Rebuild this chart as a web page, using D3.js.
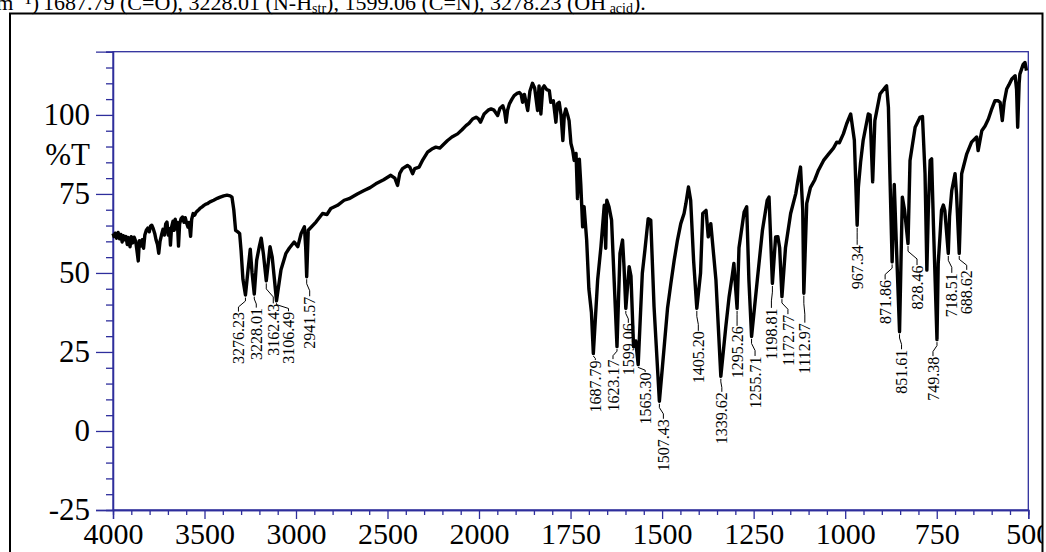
<!DOCTYPE html>
<html>
<head>
<meta charset="utf-8">
<script src="https://cdn.jsdelivr.net/npm/d3@7"></script>
<style>
  body { margin: 0; background: #fff; overflow: hidden; }
  svg { display: block; font-family: "Liberation Serif", "DejaVu Serif", serif; }
</style>
</head>
<body>
<svg id="chart"></svg>
<script>
// IR spectrum: [wavenumber cm-1, %T]
const spectrum = [
  [4000, 62.5], [3994, 61.5], [3988, 62.6], [3980, 61.0], [3972, 62.8], [3964, 60.8], [3957, 62.2], [3950, 59.8],
  [3943, 61.8], [3936, 60.5], [3929, 61.5], [3922, 59.0], [3915, 61.2], [3907, 58.3], [3900, 61.5], [3892, 59.5],
  [3884, 61.3], [3876, 60.0], [3869, 57.0], [3862, 53.8], [3856, 60.2], [3848, 58.5], [3840, 60.5], [3833, 57.8],
  [3826, 62.0], [3818, 63.5], [3810, 64.2], [3802, 63.0], [3795, 64.8], [3788, 65.1], [3780, 64.0], [3772, 62.5],
  [3765, 60.5], [3757, 59.0], [3750, 56.2], [3743, 60.0], [3735, 62.0], [3727, 63.8], [3719, 62.0], [3712, 65.5],
  [3705, 66.1], [3698, 62.0], [3691, 64.0], [3686, 58.8], [3680, 64.5], [3672, 66.4], [3666, 63.5], [3660, 67.0],
  [3654, 64.0], [3648, 66.0], [3642, 58.5], [3636, 65.5], [3628, 67.2], [3620, 67.7], [3612, 66.0], [3605, 67.5],
  [3598, 65.8], [3590, 64.5], [3584, 66.0], [3576, 61.6], [3570, 67.0], [3562, 68.8], [3554, 68.3], [3545, 69.3],
  [3535, 69.8], [3525, 70.4], [3515, 70.8], [3505, 71.3], [3495, 71.7], [3485, 71.9], [3470, 72.5], [3450, 73.0],
  [3430, 73.6], [3414, 74.0], [3395, 74.4], [3377, 74.6], [3360, 74.4], [3350, 74.0], [3340, 70.0], [3330, 63.5],
  [3318, 63.0], [3308, 62.5], [3300, 57.0], [3290, 48.0], [3276.23, 43.0], [3262, 51.0], [3250, 57.5], [3240, 50.0],
  [3228.01, 43.3], [3215, 54.0], [3200, 58.5], [3190, 61.0], [3178, 56.0], [3162.43, 47.5], [3150, 54.0], [3142, 58.3],
  [3130, 55.0], [3118, 48.0], [3106.49, 41.2], [3082, 51.0], [3055, 56.2], [3037, 57.8], [3010, 59.8], [2990, 58.3],
  [2972, 62.5], [2954, 64.6], [2947, 58.0], [2941.57, 48.8], [2933, 63.5], [2891, 66.1], [2855, 68.8], [2831, 68.5],
  [2810, 70.4], [2773, 71.4], [2737, 73.0], [2710, 73.5], [2665, 75.0], [2628, 76.1], [2595, 77.0], [2564, 78.2],
  [2521, 79.5], [2482, 80.9], [2460, 80.0], [2445, 77.7], [2433, 81.5], [2418, 83.0], [2391, 84.0], [2378, 83.5],
  [2363, 81.4], [2351, 83.0], [2327, 83.5], [2307, 85.8], [2281, 88.2], [2258, 89.2], [2236, 89.8], [2214, 89.5],
  [2197, 90.5], [2172, 91.9], [2148, 93.0], [2117, 94.0], [2093, 95.3], [2071, 96.6], [2055, 97.3], [2035, 98.7],
  [2016, 99.3], [2004, 98.8], [1996, 97.7], [1986, 100.3], [1975, 101.5], [1967, 101.9], [1959, 101.5], [1949, 99.8],
  [1943, 102.0], [1935, 102.9], [1930, 101.0], [1926, 97.7], [1922, 101.5], [1917, 103.5], [1910, 105.0], [1904, 106.1],
  [1896, 106.8], [1890, 107.1], [1885, 106.5], [1881, 104.0], [1876, 106.5], [1867, 101.4], [1861, 107.5], [1854, 110.0],
  [1848, 108.5], [1840, 101.4], [1836, 109.2], [1831, 100.3], [1826, 108.5], [1822, 109.2], [1815, 108.0], [1808, 107.7],
  [1804, 104.0], [1797, 104.5], [1790, 97.7], [1786, 103.5], [1781, 104.0], [1776, 100.0], [1771, 91.9], [1767, 100.0],
  [1763, 101.9], [1758, 100.0], [1754, 98.2], [1749, 91.0], [1744, 88.7], [1740, 85.6], [1735, 87.8], [1731, 73.5],
  [1726, 86.0], [1722, 78.0], [1717, 64.6], [1713, 71.0], [1706, 60.4], [1700, 45.0], [1693, 37.5], [1687.79, 24.5],
  [1676, 47.8], [1667, 58.3], [1658, 71.4], [1654, 57.8], [1651, 73.0], [1645, 70.9], [1638, 66.7], [1631, 47.8],
  [1623.17, 26.7], [1615, 56.2], [1608, 60.4], [1604, 52.0], [1599.06, 38.8], [1590, 52.0], [1585, 49.0], [1578, 26.7],
  [1572, 28.5], [1565.3, 21.0], [1554, 49.9], [1547, 57.2], [1538, 67.2], [1531, 66.7], [1522, 39.3], [1507.43, 9.4],
  [1499, 20.4], [1485, 39.0], [1476, 46.7], [1467, 54.0], [1458, 60.4], [1449, 65.6], [1440, 68.8], [1435, 72.0],
  [1428, 77.2], [1422, 73.0], [1414, 54.0], [1405.2, 38.8], [1395, 50.0], [1389, 68.8], [1380, 69.8], [1374, 61.4],
  [1367, 65.6], [1353, 47.8], [1339.62, 17.3], [1326, 33.0], [1317, 42.5], [1308, 49.5], [1304, 53.0], [1295.26, 38.8],
  [1290, 58.0], [1276, 69.3], [1269, 70.9], [1263, 47.8], [1255.71, 29.9], [1240, 47.8], [1226, 63.5], [1213, 73.0],
  [1208, 74.0], [1198.81, 46.7], [1190, 61.4], [1184, 61.5], [1179, 58.0], [1172.77, 42.5], [1163, 58.0], [1149, 68.8],
  [1135, 75.1], [1129, 79.3], [1122, 83.5], [1116, 70.0], [1112.97, 43.6], [1105, 72.0], [1095, 77.0], [1083, 79.5],
  [1073, 82.5], [1059, 85.6], [1046, 87.5], [1032, 89.5], [1023, 91.4], [1016, 91.2], [1005, 94.0], [996, 97.2],
  [985, 100.3], [975, 92.0], [967.34, 65.1], [964, 77.2], [958, 85.0], [951, 91.9], [937, 100.3], [932, 100.0],
  [925, 78.8], [919, 98.2], [905, 106.6], [891, 108.7], [887, 109.2], [882, 102.4], [878, 81.4], [871.86, 53.5],
  [866, 78.0], [860, 58.0], [851.61, 31.4], [844, 74.0], [838, 70.0], [828.46, 59.3], [823, 85.6], [809, 96.1],
  [796, 99.2], [789, 99.5], [782, 81.4], [777, 50.9], [773, 70.0], [768, 85.6], [764, 86.1], [759, 65.0],
  [749.38, 28.9], [746, 53.0], [741, 62.0], [737, 69.8], [732, 71.5], [728, 69.8], [718.51, 56.2], [715, 68.0],
  [709, 76.1], [700, 81.4], [696, 75.0], [688.62, 56.2], [687, 62.0], [682, 81.4], [668, 87.7], [655, 91.4],
  [641, 93.0], [637, 88.7], [627, 95.0], [618, 96.5], [609, 98.7], [601, 101.5], [591, 104.5], [583, 104.5],
  [577, 104.0], [571, 98.2], [566, 104.0], [559, 108.2], [553, 109.5], [545, 111.4], [536, 112.4], [532, 108.0],
  [529, 96.1], [525, 110.0], [523, 112.9], [514, 116.0], [509, 116.6], [505, 114.0]
];

// picked peaks (labels are the wavenumbers)
const peakLabels = [
  "3276.23", "3228.01", "3162.43", "3106.49", "2941.57",
  "1687.79", "1623.17", "1599.06", "1565.30", "1507.43", "1405.20", "1339.62", "1295.26",
  "1255.71", "1198.81", "1172.77", "1112.97", "967.34", "871.86", "851.61", "828.46",
  "749.38", "718.51", "688.62"
];

const xMajorTicks = [4000, 3500, 3000, 2500, 2000, 1750, 1500, 1250, 1000, 750, 500];
const yMajorTicks = [-25, 0, 25, 50, 75, 100];
const yAxisTitle = "%T";

// label placement: [x shift of the text in px, gap below the peak in px]
const labelLayout = {
  "3276.23": [-7, 17], "3228.01": [2, 14], "3162.43": [7, 23], "3106.49": [12, 11], "2941.57": [3, 20],
  "1687.79": [2, 7], "1623.17": [-4, 13], "1599.06": [2.5, 15], "1565.30": [7, 8], "1507.43": [4, 18],
  "1405.20": [1.5, 23], "1339.62": [1, 16], "1295.26": [0, 18], "1255.71": [3.5, 20], "1198.81": [-1, 25],
  "1172.77": [6, 18], "1112.97": [1, 30], "967.34": [0, 20], "871.86": [-7, 18], "851.61": [2, 18],
  "828.46": [9, 22], "749.38": [-4, 17], "718.51": [3.5, 20], "688.62": [7.5, 17]
};

const serif = '"Liberation Serif", "DejaVu Serif", serif';

class SpectrumPlot {
  constructor(_config, _data, _peaks) {
    this.config = {
      parentElement: _config.parentElement,
      containerWidth: _config.containerWidth || 1046,
      containerHeight: _config.containerHeight || 552,
      margin: _config.margin || { top: 51.7, right: 17.7, bottom: 42, left: 113 }
    };
    this.data = _data;
    this.peaks = _peaks;
    this.axisColor = '#2e2e9c';
    this.initVis();
  }

  initVis() {
    let vis = this;

    vis.width = vis.config.containerWidth - vis.config.margin.left - vis.config.margin.right;
    vis.height = vis.config.containerHeight - vis.config.margin.top - vis.config.margin.bottom;

    // x axis is split at 2000: the 4000-2000 half is compressed
    vis.xScale = d3.scaleLinear()
      .domain([4000, 2000, 500])
      .range([0, 366, vis.width]);

    vis.yScale = d3.scaleLinear()
      .domain([-25, 120])
      .range([vis.height, 0]);

    vis.svg = d3.select(vis.config.parentElement)
      .attr('width', vis.config.containerWidth)
      .attr('height', vis.config.containerHeight);

    vis.chart = vis.svg.append('g')
      .attr('transform', `translate(${vis.config.margin.left},${vis.config.margin.top})`);

    // minor tick values
    let xMinor = d3.range(4000, 2000, -100).concat(d3.range(2000, 499, -50))
      .filter(v => !xMajorTicks.includes(v));
    let yMinor = d3.range(-25, 121, 5).filter(v => !yMajorTicks.includes(v));

    vis.xAxis = d3.axisBottom(vis.xScale).tickValues(xMajorTicks).tickSize(9).tickPadding(4)
      .tickFormat(d => String(d));
    vis.xAxisMinor = d3.axisBottom(vis.xScale).tickValues(xMinor).tickSize(5).tickFormat('');
    vis.yAxis = d3.axisLeft(vis.yScale).tickValues(yMajorTicks).tickSize(17).tickPadding(6)
      .tickFormat(d => String(d));
    vis.yAxisMinor = d3.axisLeft(vis.yScale).tickValues(yMinor).tickSize(7).tickFormat('');
  }

  renderVis() {
    let vis = this;

    // caption line cut off at the top of the page
    let cap = vis.svg.append('g').attr('font-size', 22).attr('font-family', serif).attr('fill', '#000');
    cap.append('text').attr('x', 39).attr('y', 9.5).attr('text-anchor', 'end').text('cm\u207B\u00B9)');
    let capText = cap.append('text').attr('x', 43).attr('y', 9.5);
    capText.append('tspan').text('1687.79 (C=O), 3228.01 (N-H');
    capText.append('tspan').attr('font-size', 14).attr('dy', 3).text('str');
    capText.append('tspan').attr('dy', -3).text('), 1599.06 (C=N), 3278.23 (OH');
    capText.append('tspan').attr('font-size', 14).attr('dy', 3).text(' acid');
    capText.append('tspan').attr('dy', -3).text(').');

    // plot frame (top and right)
    vis.chart.append('rect')
      .attr('width', vis.width)
      .attr('height', vis.height)
      .attr('fill', 'none')
      .attr('stroke', vis.axisColor)
      .attr('stroke-width', 1.3);

    // axes
    let xg = vis.chart.append('g').attr('transform', `translate(0,${vis.height})`);
    xg.append('g').call(vis.xAxisMinor);
    xg.append('g').call(vis.xAxis);
    let yg = vis.chart.append('g');
    yg.append('g').call(vis.yAxisMinor);
    yg.append('g').call(vis.yAxis);

    vis.chart.selectAll('.domain, .tick line')
      .attr('stroke', vis.axisColor)
      .attr('stroke-width', 1.3);
    vis.chart.selectAll('.tick text')
      .attr('fill', '#000')
      .attr('font-family', serif)
      .attr('font-size', 31);
    xg.selectAll('.tick text').attr('font-size', 30);

    // %T between 100 and 75
    vis.chart.append('text')
      .attr('x', -23)
      .attr('y', vis.yScale(87.5) + 11)
      .attr('text-anchor', 'end')
      .attr('font-family', serif)
      .attr('font-size', 31)
      .text(yAxisTitle);

    // spectrum line
    let line = d3.line()
      .x(d => vis.xScale(d[0]))
      .y(d => vis.yScale(d[1]));

    vis.chart.append('path')
      .datum(vis.data)
      .attr('d', line)
      .attr('fill', 'none')
      .attr('stroke', '#000')
      .attr('stroke-width', 3.4)
      .attr('stroke-linejoin', 'round');

    // peak labels with leaders
    let peakData = vis.peaks.map(lbl => {
      let wn = +lbl;
      let pt = vis.data.find(d => Math.abs(d[0] - wn) < 0.001);
      let lay = labelLayout[lbl] || [0, 18];
      let px = vis.xScale(wn), py = vis.yScale(pt[1]);
      return { lbl, px, py, lx: px + lay[0], gap: lay[1] };
    });

    let pk = vis.chart.selectAll('.peak')
      .data(peakData)
      .enter()
      .append('g')
      .attr('class', 'peak');

    pk.append('path')
      .attr('d', d => `M${d.px},${d.py + 2.5}V${d.py + d.gap * 0.35}L${d.lx},${d.py + d.gap * 0.7}V${d.py + d.gap - 0.5}`)
      .attr('fill', 'none')
      .attr('stroke', '#000')
      .attr('stroke-width', 1);

    pk.append('text')
      .attr('transform', d => `translate(${d.lx},${d.py + d.gap}) rotate(-90)`)
      .attr('text-anchor', 'end')
      .attr('dy', '0.35em')
      .attr('font-family', serif)
      .attr('font-size', 16)
      .text(d => d.lbl);

    // outer page frame clips the right edge
    vis.svg.append('rect')
      .attr('x', 1043).attr('y', 0).attr('width', 10).attr('height', vis.config.containerHeight)
      .attr('fill', '#fff');
    vis.svg.append('path')
      .attr('d', `M10,${vis.config.containerHeight + 5}V13.5H1042.5V${vis.config.containerHeight + 5}`)
      .attr('fill', 'none')
      .attr('stroke', '#000')
      .attr('stroke-width', 2);
  }
}

let plot = new SpectrumPlot({ parentElement: '#chart' }, spectrum, peakLabels);
plot.renderVis();
</script>
</body>
</html>
